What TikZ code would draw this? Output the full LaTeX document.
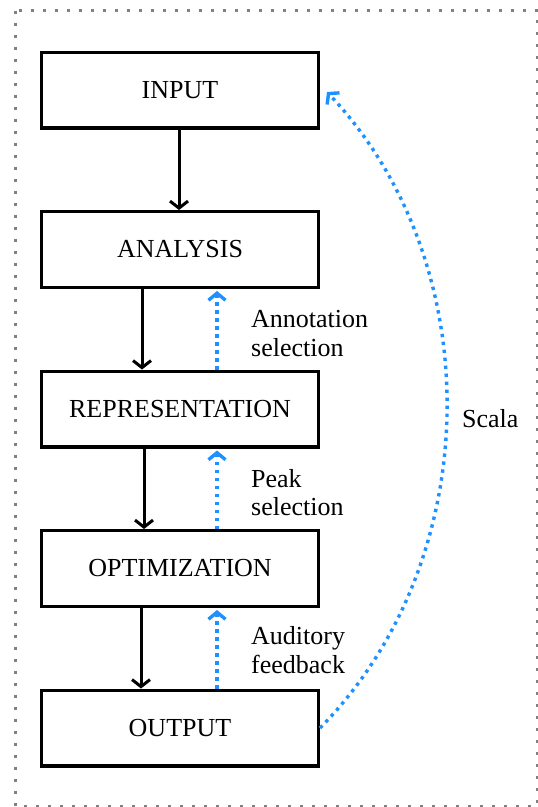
\documentclass[tikz,border=0pt]{standalone}
\usepackage{fontspec}
\setmainfont{Liberation Serif}
\usetikzlibrary{arrows.meta}
\definecolor{flowblue}{RGB}{30,144,255}
\tikzset{
  box/.style={draw=black, line width=3.4pt, minimum width=276.6pt, minimum height=75.6pt, inner sep=0pt, font=\fontsize{26}{28.5}\selectfont},
  flow/.style={draw=black, line width=3pt, -{Straight Barb[length=7pt,width=18pt]}},
  fb/.style={draw=flowblue, line width=3.4pt, dash pattern=on 3.4pt off 4.6pt, -{Straight Barb[length=7pt,width=17pt]}},
  lab/.style={font=\fontsize{26}{28.5}\selectfont, align=left, inner sep=0pt, anchor=west},
  frame/.style={draw=gray, line width=3pt, dash pattern=on 3pt off 9pt}
}
\begin{document}
\begin{tikzpicture}[x=1pt,y=-1pt]
\useasboundingbox (0,0) rectangle (538,807);
\draw[frame] (15.5,10.5) rectangle (537,806);
\node[box] (inp) at (180,90) {INPUT};
\node[box] (ana) at (180,249.5) {ANALYSIS};
\node[box] (rep) at (180,409) {REPRESENTATION};
\node[box] (opt) at (180,568.5) {OPTIMIZATION};
\node[box] (out) at (180,728) {OUTPUT};
\draw[flow] ([xshift=-1pt]inp.south) -- ([xshift=-1pt]ana.north);
\draw[flow] ([xshift=-38pt]ana.south) -- ([xshift=-38pt]rep.north);
\draw[flow] ([xshift=-36pt]rep.south) -- ([xshift=-36pt]opt.north);
\draw[flow] ([xshift=-39pt]opt.south) -- ([xshift=-39pt]out.north);
\draw[fb, shorten >=2pt] ([xshift=37pt]rep.north) -- ([xshift=37pt]ana.south);
\draw[fb, shorten >=2pt] ([xshift=37pt]opt.north) -- ([xshift=37pt]rep.south);
\draw[fb, shorten >=2pt] ([xshift=37pt]out.north) -- ([xshift=37pt]opt.south);
\draw[fb] (out.east) to[bend right=44, looseness=0.95] ([xshift=7pt,yshift=-2pt]inp.east);
\node[lab] (l1) at (251,333.5) {Annotation\\selection};
\node[lab] (l2) at (251,492.5) {Peak\\selection};
\node[lab] (l3) at (251,650) {Auditory\\feedback};
\node[lab] (l4) at (462,419) {Scala};
\end{tikzpicture}
\end{document}
